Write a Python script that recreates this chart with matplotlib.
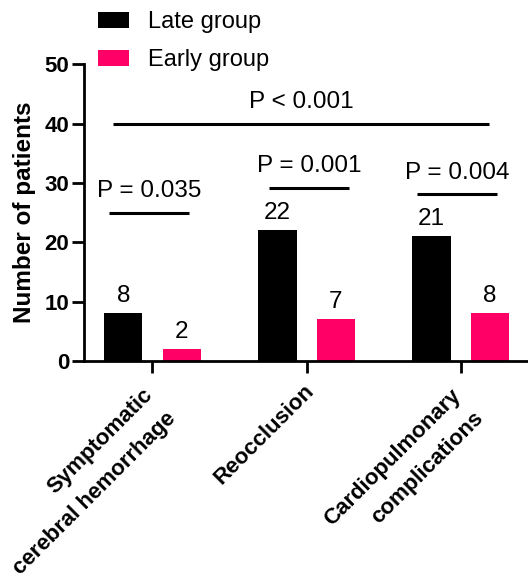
import matplotlib
matplotlib.use("Agg")
import matplotlib.pyplot as plt
import matplotlib.transforms as mtransforms
import numpy as np
from matplotlib.patches import Patch

plt.rcParams['font.family'] = ['Liberation Sans', 'DejaVu Sans']

categories = ["Symptomatic\ncerebral hemorrhage", "Reocclusion", "Cardiopulmonary\ncomplications"]
late_group = [8, 22, 21]
early_group = [2, 7, 8]
series_names = ["Late group", "Early group"]
yticks = [0, 10, 20, 30, 40, 50]

# significance brackets: (x start, x end, y, label)
brackets = [
    (-0.256, 2.185, 40, "P < 0.001"),
    (-0.282, 0.237, 25, "P = 0.035"),
    (0.756, 1.276, 29.2, "P = 0.001"),
    (1.718, 2.237, 28.1, "P = 0.004"),
]

late_color = "#000000"
early_color = "#FF0066"

fig = plt.figure(figsize=(5.28, 5.73), dpi=100)
ax = fig.add_axes([0.159, 0.370, 0.841, 0.518])

x = np.arange(len(categories))
offset = 0.190
width = 0.25
ax.bar(x - offset, late_group, width, color=late_color)
ax.bar(x + offset, early_group, width, color=early_color)

for xs, vals in ((x - offset, late_group), (x + offset, early_group)):
    for xi, v in zip(xs, vals):
        ax.annotate(str(v), (xi, v), xytext=(0, 8), textcoords="offset points",
                    ha="center", va="baseline", fontsize=17.5)

for x0, x1, y, label in brackets:
    ax.plot([x0, x1], [y, y], color="black", lw=2.2, solid_capstyle="butt")
    ax.annotate(label, ((x0 + x1) / 2, y), xytext=(0, 11), textcoords="offset points",
                ha="center", va="baseline", fontsize=17.5)

ax.set_xlim(-0.445, 2.438)
ax.set_ylim(0, 50)
ax.set_yticks(yticks)
ax.set_xticks(x)
ax.set_xticklabels([])
for lbl in ax.get_yticklabels():
    lbl.set_fontweight("bold")
    lbl.set_fontsize(16)

# rotated category labels, right-aligned lines, hung below each tick
base = mtransforms.blended_transform_factory(ax.transData, ax.transAxes)
for xi, cat in zip(x, categories):
    n_lines = cat.count("\n") + 1
    dx, dy = (2.9, -19.4) if n_lines == 1 else (6.1, -30.8)
    tr = base + mtransforms.ScaledTranslation(dx / 72, dy / 72, fig.dpi_scale_trans)
    ax.text(xi, 0, cat, transform=tr, rotation=45, ha="right", va="center",
            rotation_mode="anchor", multialignment="right",
            fontsize=16, fontweight="bold", linespacing=1.7, clip_on=False)

for side in ("top", "right"):
    ax.spines[side].set_visible(False)
for side in ("left", "bottom"):
    ax.spines[side].set_linewidth(2)
ax.tick_params(axis="both", width=2, length=8.5, color="black")
ax.tick_params(axis="y", pad=2)

ax.set_ylabel("Number of patients", fontsize=17.5, fontweight="bold", labelpad=6)

handles = [Patch(facecolor=late_color), Patch(facecolor=early_color)]
fig.legend(handles, series_names, loc="upper left", bbox_to_anchor=(98 / 528, 1 - 11 / 573),
           frameon=False, fontsize=17, handlelength=1.31, handleheight=0.64,
           handletextpad=0.8, labelspacing=0.69, borderpad=0, borderaxespad=0)

fig.savefig("out.png", dpi=100)
